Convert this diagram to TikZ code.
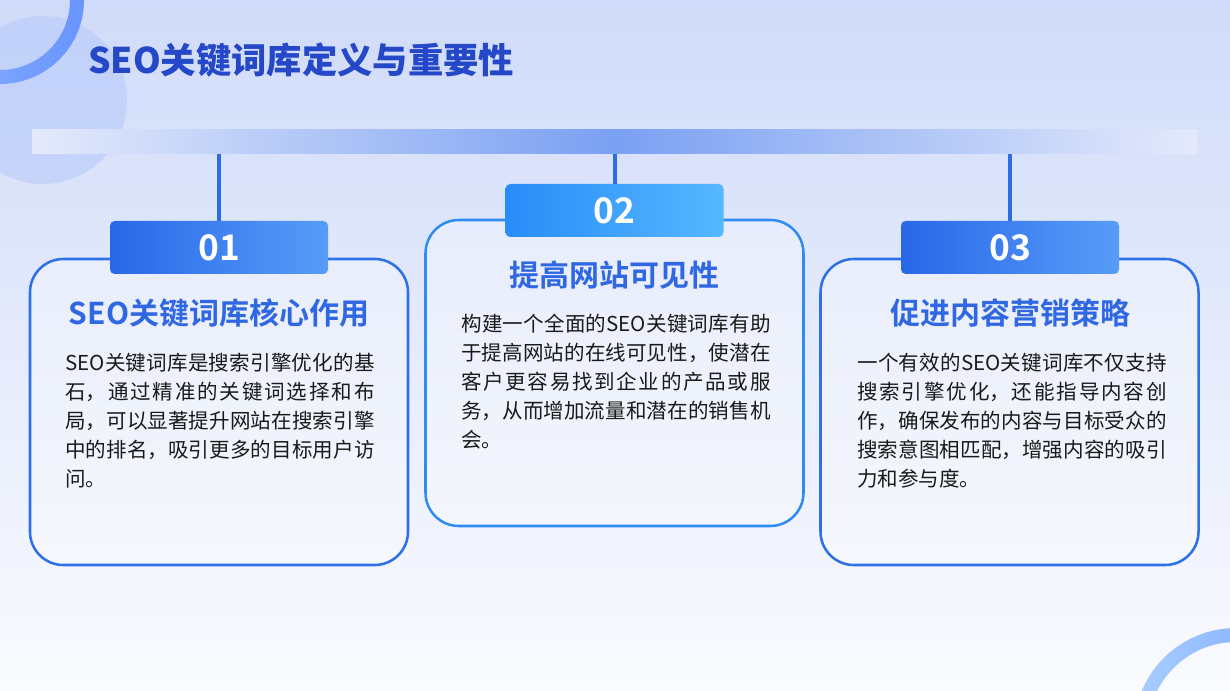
\documentclass[tikz,border=0pt]{standalone}
\usepackage{fontspec}
\setmainfont{Noto Sans CJK SC}[BoldFont={Noto Sans CJK SC Bold}]
\newfontfamily\heavyfont{Noto Sans CJK SC Black}
\XeTeXlinebreaklocale "zh"
\XeTeXlinebreakskip=0pt plus 3pt
\setlength{\parindent}{0pt}
\definecolor{bgtop}{RGB}{208,219,249}
\definecolor{bgbot}{RGB}{250,251,254}
\definecolor{titleblue}{RGB}{36,72,200}
\definecolor{lineblue}{RGB}{44,108,228}
\definecolor{cardedge}{RGB}{45,112,232}
\definecolor{cardedgeb}{RGB}{48,140,240}
\definecolor{labA}{RGB}{40,104,232}
\definecolor{labB}{RGB}{88,156,248}
\definecolor{labC}{RGB}{40,140,248}
\definecolor{labD}{RGB}{86,184,255}
\definecolor{headblue}{RGB}{48,104,228}
\definecolor{barL}{RGB}{228,234,251}
\definecolor{barM}{RGB}{122,160,242}
\definecolor{circ}{RGB}{184,202,250}
\definecolor{ringA}{RGB}{140,180,255}
\definecolor{ringB}{RGB}{104,148,255}
\definecolor{ringC}{RGB}{168,206,255}
\definecolor{ringD}{RGB}{118,162,255}
\definecolor{bodytext}{RGB}{26,26,26}
\tikzset{
  card/.style={draw=cardedge, line width=1.9pt, rounded corners=25pt, fill=white, fill opacity=0.3, draw opacity=1, minimum width=283.5pt, minimum height=229.5pt, inner sep=0pt},
  labelbox/.style={rounded corners=3.5pt, minimum width=163.5pt, minimum height=39.75pt, inner sep=0pt, text=white, font=\fontsize{26.5}{30}\selectfont\bfseries},
  cardtitle/.style={text=headblue, font=\fontsize{22.5}{26}\selectfont\bfseries, inner sep=0pt},
  bodybox/.style={anchor=north west, inner sep=0pt, text width=232pt, align=justify, text=bodytext, font=\fontsize{15.4}{21.75}\selectfont},
  conn/.style={draw=lineblue, line width=3pt},
}
\begin{document}
\begin{tikzpicture}[x=0.75pt,y=-0.75pt]
\useasboundingbox (0,0) rectangle (1230,691);
\clip (0,0) rectangle (1230,691);
\shade[top color=bgtop, bottom color=bgbot] (0,0) rectangle (1230,691);
% decorations
\fill[circ, opacity=0.6] (43,100) circle (63pt);
\shade[even odd rule, left color=ringA, right color=ringB] (0,0) circle (63pt) (0,0) circle (52.5pt);
\shade[even odd rule, left color=ringC, right color=ringD] (1236,730) circle (76.5pt) (1236,730) circle (66pt);
% title
\node[anchor=west, inner sep=0pt, text=titleblue, font=\fontsize{26.5}{30}\selectfont\heavyfont] (title) at (88,60) {SEO关键词库定义与重要性};
% bar
\node[inner sep=0pt, minimum width=873.75pt, minimum height=18pt, left color=barL, right color=barL, middle color=barM] (bar) at (614.5,142) {};
\coordinate (b1) at (219,154);
\coordinate (b2) at (614.5,154);
\coordinate (b3) at (1010,154);
% cards
\node[card] (c1) at (219,412) {};
\node[card, draw=cardedgeb] (c2) at (614.5,373) {};
\node[card] (c3) at (1009.5,412) {};
% labels
\node[labelbox, left color=labA, right color=labB] (l1) at (219,247.5) {01};
\node[labelbox, left color=labC, right color=labD] (l2) at (614.5,210.5) {02};
\node[labelbox, left color=labA, right color=labB] (l3) at (1010,247.5) {03};
\draw[conn] (b1) -- (l1.north);
\draw[conn] (b2) -- (l2.north);
\draw[conn] (b3) -- (l3.north);
% card titles
\node[cardtitle] (t1) at (219,313) {SEO关键词库核心作用};
\node[cardtitle] (t2) at (614.5,275) {提高网站可见性};
\node[cardtitle] (t3) at (1010,313) {促进内容营销策略};
% bodies
\node[bodybox] (p1) at (65,353) {SEO关键词库是搜索引擎优化的基\linebreak 石，通过精准的关键词选择和布\linebreak 局，可以显著提升网站在搜索引擎\linebreak 中的排名，吸引更多的目标用户访\linebreak 问。};
\node[bodybox] (p2) at (461,314) {构建一个全面的SEO关键词库有助\linebreak 于提高网站的在线可见性，使潜在\linebreak 客户更容易找到企业的产品或服\linebreak 务，从而增加流量和潜在的销售机\linebreak 会。};
\node[bodybox] (p3) at (857,353) {一个有效的SEO关键词库不仅支持\linebreak 搜索引擎优化，还能指导内容创\linebreak 作，确保发布的内容与目标受众的\linebreak 搜索意图相匹配，增强内容的吸引\linebreak 力和参与度。};
\end{tikzpicture}
\end{document}
